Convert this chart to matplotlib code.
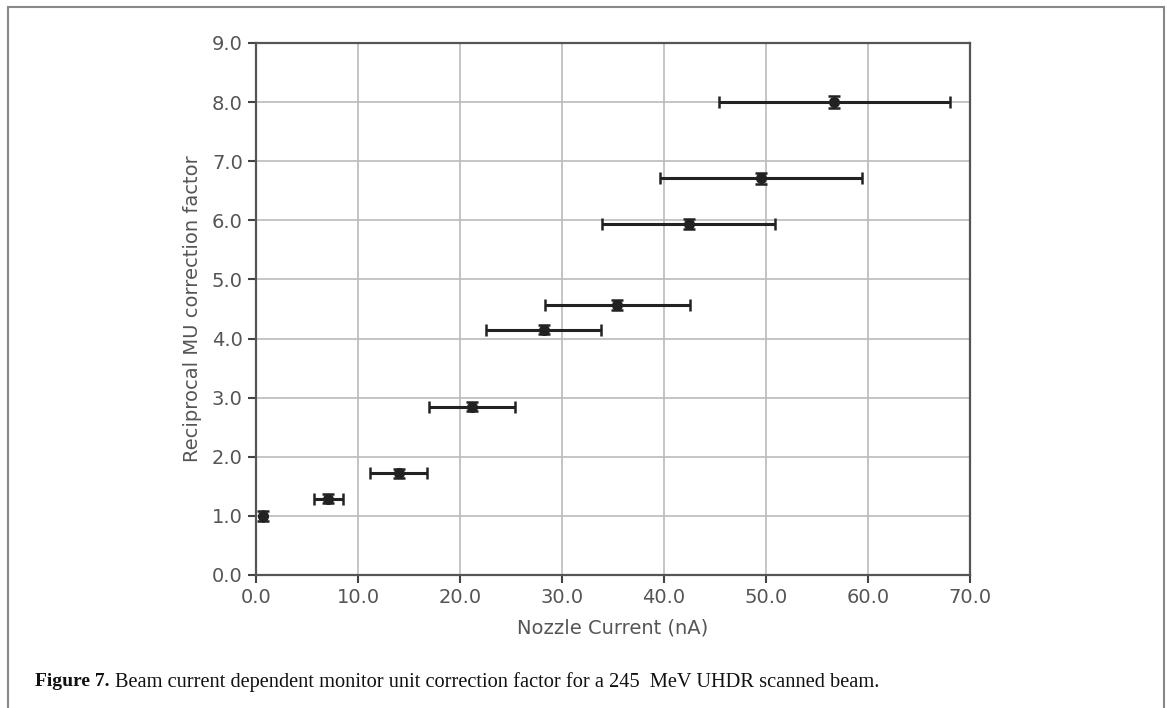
import matplotlib.pyplot as plt
from matplotlib.patches import Rectangle

plt.rcParams['font.family'] = ['DejaVu Sans']

# Data
nozzle_current = [0.7, 7.1, 14.0, 21.2, 28.2, 35.4, 42.4, 49.5, 56.7]
current_err = [0.0, 1.4, 2.8, 4.2, 5.65, 7.1, 8.5, 9.9, 11.35]
correction = [1.00, 1.29, 1.72, 2.85, 4.15, 4.57, 5.94, 6.71, 8.00]
correction_err = [0.08, 0.08, 0.08, 0.08, 0.08, 0.09, 0.08, 0.09, 0.1]

xticks = [0, 10, 20, 30, 40, 50, 60, 70]
yticks = [0, 1, 2, 3, 4, 5, 6, 7, 8, 9]

fig = plt.figure(figsize=(11.67, 7.08), dpi=100)
ax = fig.add_axes([0.2194, 0.1879, 0.6118, 0.7514])

ax.errorbar(nozzle_current, correction, xerr=current_err, yerr=correction_err,
            fmt='o', color='#222222', ecolor='#222222', markersize=7,
            elinewidth=2.2, capsize=4, capthick=1.8)

ax.set_xlim(0, 70)
ax.set_ylim(0, 9)
ax.set_xticks(xticks)
ax.set_yticks(yticks)
ax.set_xticklabels(['%.1f' % v for v in xticks])
ax.set_yticklabels(['%.1f' % v for v in yticks])
ax.grid(True, color='#bbbbbb', linewidth=1.2)
ax.set_axisbelow(True)
ax.tick_params(labelsize=14, colors='#444444', length=6, width=1.5, labelcolor='#555555')
for s in ax.spines.values():
    s.set_color('#555555')
    s.set_linewidth(1.6)

ax.set_xlabel('Nozzle Current (nA)', fontsize=14, color='#555555', labelpad=8)
ax.set_ylabel('Reciprocal MU correction factor', fontsize=14, color='#555555', labelpad=7)

# caption and page frame
fig.text(0.030, 0.037, 'Figure 7.', fontsize=14, family='Liberation Serif',
         fontweight='bold', va='center', color='#111111')
fig.text(0.0985, 0.037,
         'Beam current dependent monitor unit correction factor for a 245  MeV UHDR scanned beam.',
         fontsize=14.7, family='Liberation Serif', va='center', color='#111111')
fig.patches.append(Rectangle((8 / 1167, -0.05), (1164 - 8) / 1167, 1.05 - 7 / 708,
                             transform=fig.transFigure, fill=False,
                             edgecolor='#888888', linewidth=1.5))

fig.savefig('out.png', dpi=100)
